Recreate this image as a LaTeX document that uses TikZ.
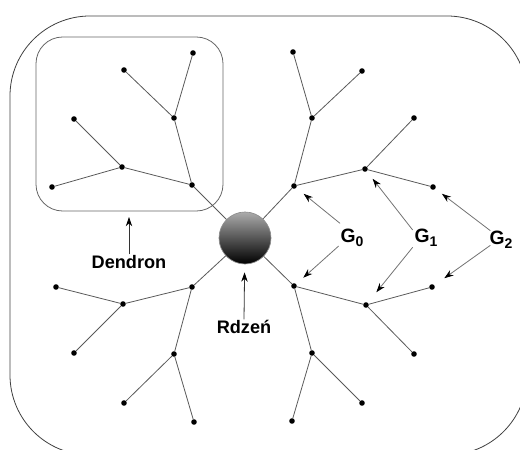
\documentclass[tikz,border=0pt]{standalone}
\usepackage{fontspec}
\setmainfont{Liberation Sans}
\usetikzlibrary{arrows.meta}
\begin{document}
\begin{tikzpicture}[x=0.75pt,y=-0.75pt,
  dot/.style={circle,fill=black,inner sep=0pt,minimum size=4.2pt},
  link/.style={draw=black!65,line width=0.6pt},
  frame/.style={draw=black!75,line width=0.6pt},
  pointer/.style={draw=black!55,line width=0.6pt,-{Stealth[length=7pt,width=4.8pt,black]}},
  lbl/.style={font=\fontsize{13.6}{16}\selectfont\bfseries,inner sep=0.5pt},
  gen/.style={font=\fontsize{14.5}{17}\selectfont\bfseries,inner sep=0.5pt}]
\useasboundingbox (0,0) rectangle (520,449);

% outer boundary of the molecule, running past the page edges
\begin{scope}
  \clip (0,0) rectangle (520,449);
  \draw[frame, rounded corners=60pt] (10,16) rectangle (527,455);
\end{scope}

% frame round one dendron
\draw[frame, draw=black!60, rounded corners=20pt] (36,37) rectangle (223,211);

% core
\node[circle, minimum size=39pt, inner sep=0pt, draw=black!45, line width=0.5pt,
      top color=black!33, bottom color=black] (core) at (245,238) {};

% upper-left dendron
\node[dot] (a1) at (193,53) {};
\node[dot] (a2) at (124,70) {};
\node[dot] (a3) at (174,118) {};
\node[dot] (a4) at (74,119) {};
\node[dot] (a5) at (122,167) {};
\node[dot] (a6) at (192,185) {};
\node[dot] (a7) at (52,187) {};
% upper-right dendron
\node[dot] (b1) at (293,52) {};
\node[dot] (b2) at (362,71) {};
\node[dot] (b3) at (312,118) {};
\node[dot] (b4) at (414,118) {};
\node[dot] (b5) at (365,169) {};
\node[dot] (b6) at (294,186) {};
\node[dot] (b7) at (433,187) {};
% lower-left dendron
\node[dot] (c1) at (192,287) {};
\node[dot] (c2) at (56,287) {};
\node[dot] (c3) at (123,304) {};
\node[dot] (c4) at (74,353) {};
\node[dot] (c5) at (174,354) {};
\node[dot] (c6) at (124,403) {};
\node[dot] (c7) at (194,422) {};
% lower-right dendron
\node[dot] (d1) at (294,286) {};
\node[dot] (d2) at (366,305) {};
\node[dot] (d3) at (432,287) {};
\node[dot] (d4) at (414,354) {};
\node[dot] (d5) at (312,353) {};
\node[dot] (d6) at (362,403) {};
\node[dot] (d7) at (292,421) {};

% branches
\draw[link] (core) -- (a6) (a6) -- (a3) (a3) -- (a1) (a3) -- (a2)
            (a6) -- (a5) (a5) -- (a4) (a5) -- (a7);
\draw[link] (core) -- (b6) (b6) -- (b3) (b3) -- (b1) (b3) -- (b2)
            (b6) -- (b5) (b5) -- (b4) (b5) -- (b7);
\draw[link] (core) -- (c1) (c1) -- (c3) (c3) -- (c2) (c3) -- (c4)
            (c1) -- (c5) (c5) -- (c6) (c5) -- (c7);
\draw[link] (core) -- (d1) (d1) -- (d2) (d2) -- (d3) (d2) -- (d4)
            (d1) -- (d5) (d5) -- (d6) (d5) -- (d7);

% labels
\node[lbl] (dendron) at (129,262) {Dendron};
\coordinate (dtip) at (129,217);
\draw[pointer, draw=black!80] (dendron.north) -- (dtip);

\node[lbl] (rdzen) at (244,327) {Rdzeń};
\draw[pointer, draw=black!80, shorten >=6pt] (rdzen.north) -- (core);

\node[gen] (g0) at (352,238) {G\raisebox{-3pt}{\fontsize{10.5}{12}\selectfont 0}};
\node[gen] (g1) at (426,238) {G\raisebox{-3pt}{\fontsize{10.5}{12}\selectfont 1}};
\node[gen] (g2) at (501,240) {G\raisebox{-3pt}{\fontsize{10.5}{12}\selectfont 2}};

% generation pointers
\draw[pointer, shorten >=7pt] ([xshift=-9pt,yshift=11pt]g0.center) -- (b6);
\draw[pointer, shorten >=7pt] ([xshift=-10pt,yshift=-6pt]g0.center) -- (d1);
\draw[pointer, shorten >=7pt] ([xshift=-10pt,yshift=6pt]g1.center) -- (b5);
\draw[pointer, shorten >=10pt] ([xshift=-10pt,yshift=-7pt]g1.center) -- (d2);
\draw[pointer, shorten >=6pt] ([xshift=-8pt,yshift=7pt]g2.center) -- (b7);
\draw[pointer, shorten >=9pt] ([xshift=-8pt,yshift=-4pt]g2.center) -- (d3);
\end{tikzpicture}
\end{document}
